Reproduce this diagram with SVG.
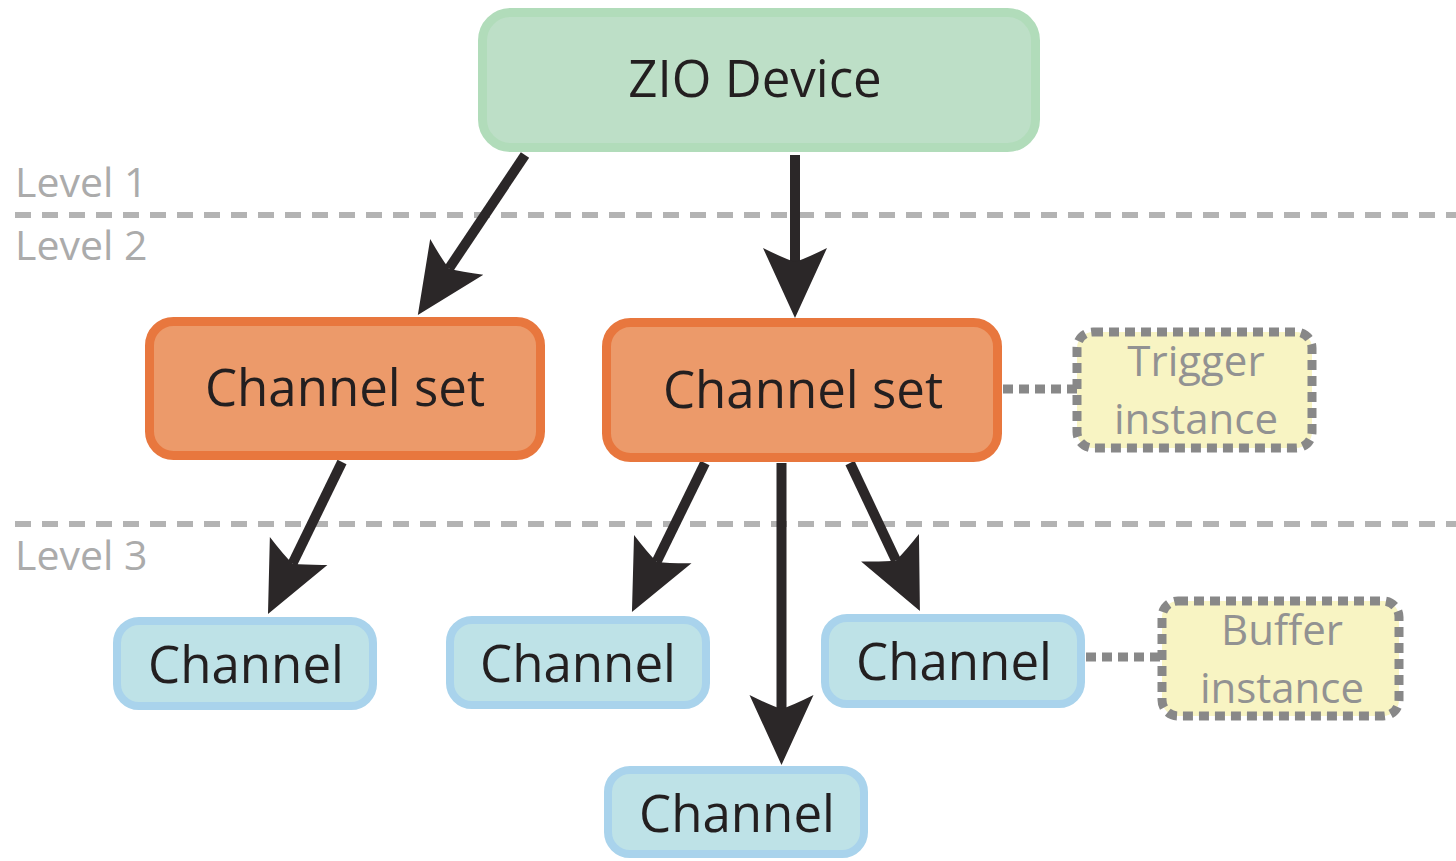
<svg xmlns="http://www.w3.org/2000/svg" width="1456" height="861" viewBox="0 0 1456 861">
<style>
text{font-family:"Open Sans","Noto Sans","Liberation Sans",sans-serif;text-anchor:middle}
.t{font-size:51px;fill:#231f20}
.lv{font-size:41px;fill:#ababab;text-anchor:start}
.sm{font-size:42px;fill:#929292}
.lvl{stroke:#b3b3b3;stroke-width:6;stroke-dasharray:16 11;fill:none}
.dev{fill:#bddfc7;stroke:#b1dcba;stroke-width:9}
.set{fill:#ec9a6a;stroke:#e8773e;stroke-width:9}
.ch{fill:#bee2e7;stroke:#a9d3ec;stroke-width:8}
.inst{fill:#f8f4c3;stroke:#888888;stroke-width:9;stroke-dasharray:10 6}
.dot{stroke:#888888;stroke-width:9;stroke-dasharray:10 6;fill:none}
.arr{stroke:#2b2728;stroke-width:10;fill:none;marker-end:url(#ah)}
</style>
<defs>
<marker id="ah" markerUnits="userSpaceOnUse" viewBox="0 -33 70 66" markerWidth="70" markerHeight="66" refX="14" refY="0" orient="auto">
<path d="M70,0 L0,-32 Q10,-12 14,0 Q10,12 0,32 Z" fill="#2b2728"/>
</marker>
</defs>
<g id="levels">
<line class="lvl" x1="15" y1="215" x2="1456" y2="215"/>
<line class="lvl" x1="15" y1="524" x2="1456" y2="524"/>
<text class="lv" x="15" y="197">Level 1</text>
<text class="lv" x="15" y="260">Level 2</text>
<text class="lv" x="15" y="570">Level 3</text>
</g>
<g id="connectors">
<line class="arr" x1="525" y1="155" x2="449" y2="268.5"/>
<line class="arr" x1="795" y1="155" x2="795" y2="262"/>
<line class="arr" x1="342" y1="462" x2="292.5" y2="563.6"/>
<line class="arr" x1="705" y1="463" x2="656.6" y2="561.7"/>
<line class="arr" x1="781.5" y1="463" x2="781.5" y2="709"/>
<line class="arr" x1="850" y1="463" x2="896" y2="560.4"/>
<line class="dot" x1="1003" y1="389" x2="1077" y2="389"/>
<line class="dot" x1="1086" y1="657" x2="1162" y2="657"/>
</g>
<g id="zio-device">
<rect class="dev" x="482.5" y="12.5" width="553" height="135" rx="28"/>
<text class="t" x="755" y="97">ZIO Device</text>
</g>
<g id="channel-set-1">
<rect class="set" x="149.5" y="321.5" width="391" height="134" rx="24"/>
<text class="t" x="345" y="406">Channel set</text>
</g>
<g id="channel-set-2">
<rect class="set" x="606.5" y="322.5" width="391" height="135" rx="24"/>
<text class="t" x="803" y="408">Channel set</text>
</g>
<g id="trigger-instance">
<rect class="inst" x="1077" y="332" width="235" height="116" rx="16"/>
<text class="sm" x="1196" y="376">Trigger</text>
<text class="sm" x="1196" y="434">instance</text>
</g>
<g id="buffer-instance">
<rect class="inst" x="1162" y="601" width="237" height="115" rx="16"/>
<text class="sm" x="1282" y="645">Buffer</text>
<text class="sm" x="1282" y="703">instance</text>
</g>
<g id="channel-1">
<rect class="ch" x="117" y="621" width="256" height="85" rx="22"/>
<text class="t" x="246" y="683">Channel</text>
</g>
<g id="channel-2">
<rect class="ch" x="450" y="620" width="256" height="85" rx="22"/>
<text class="t" x="578" y="682">Channel</text>
</g>
<g id="channel-3">
<rect class="ch" x="825" y="618" width="256" height="86" rx="22"/>
<text class="t" x="954" y="680">Channel</text>
</g>
<g id="channel-4">
<rect class="ch" x="608" y="770" width="256" height="84" rx="22"/>
<text class="t" x="737" y="832">Channel</text>
</g>
</svg>
